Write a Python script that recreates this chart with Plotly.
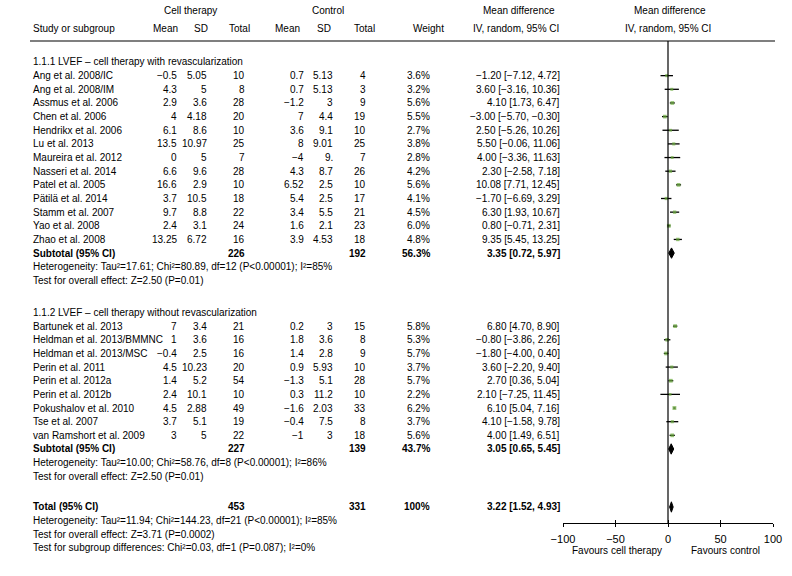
import plotly.graph_objects as go

# ---------------- data ----------------
studies1 = ["Ang et al. 2008/IC", "Ang et al. 2008/IM", "Assmus et al. 2006", "Chen et al. 2006",
            "Hendrikx et al. 2006", "Lu et al. 2013", "Maureira et al. 2012", "Nasseri et al. 2014",
            "Patel et al. 2005", "Pätilä et al. 2014", "Stamm et al. 2007", "Yao et al. 2008",
            "Zhao et al. 2008"]
cell_mean1 = ["−0.5", "4.3", "2.9", "4", "6.1", "13.5", "0", "6.6", "16.6", "3.7", "9.7", "2.4", "13.25"]
cell_sd1 = ["5.05", "5", "3.6", "4.18", "8.6", "10.97", "5", "9.6", "2.9", "10.5", "8.8", "3.1", "6.72"]
cell_n1 = [10, 8, 28, 20, 10, 25, 7, 28, 10, 18, 22, 24, 16]
ctrl_mean1 = ["0.7", "0.7", "−1.2", "7", "3.6", "8", "−4", "4.3", "6.52", "5.4", "3.4", "1.6", "3.9"]
ctrl_sd1 = ["5.13", "5.13", "3", "4.4", "9.1", "9.01", "9.", "8.7", "2.5", "2.5", "5.5", "2.1", "4.53"]
ctrl_n1 = [4, 3, 9, 19, 10, 25, 7, 26, 10, 17, 21, 23, 18]
weight1 = [3.6, 3.2, 5.6, 5.5, 2.7, 3.8, 2.8, 4.2, 5.6, 4.1, 4.5, 6.0, 4.8]
md1 = [-1.20, 3.60, 4.10, -3.00, 2.50, 5.50, 4.00, 2.30, 10.08, -1.70, 6.30, 0.80, 9.35]
lo1 = [-7.12, -3.16, 1.73, -5.70, -5.26, -0.06, -3.36, -2.58, 7.71, -6.69, 1.93, -0.71, 5.45]
hi1 = [4.72, 10.36, 6.47, -0.30, 10.26, 11.06, 11.63, 7.18, 12.45, 3.29, 10.67, 2.31, 13.25]

studies2 = ["Bartunek et al. 2013", "Heldman et al. 2013/BMMNC", "Heldman et al. 2013/MSC",
            "Perin et al. 2011", "Perin et al. 2012a", "Perin et al. 2012b", "Pokushalov et al. 2010",
            "Tse et al. 2007", "van Ramshort et al. 2009"]
cell_mean2 = ["7", "1", "−0.4", "4.5", "1.4", "2.4", "4.5", "3.7", "3"]
cell_sd2 = ["3.4", "3.6", "2.5", "10.23", "5.2", "10.1", "2.88", "5.1", "5"]
cell_n2 = [21, 16, 16, 20, 54, 10, 49, 19, 22]
ctrl_mean2 = ["0.2", "1.8", "1.4", "0.9", "−1.3", "0.3", "−1.6", "−0.4", "−1"]
ctrl_sd2 = ["3", "3.6", "2.8", "5.93", "5.1", "11.2", "2.03", "7.5", "3"]
ctrl_n2 = [15, 8, 9, 10, 28, 10, 33, 8, 18]
weight2 = [5.8, 5.3, 5.7, 3.7, 5.7, 2.2, 6.2, 3.7, 5.6]
md2 = [6.80, -0.80, -1.80, 3.60, 2.70, 2.10, 6.10, 4.10, 4.00]
lo2 = [4.70, -3.86, -4.00, -2.20, 0.36, -7.25, 5.04, -1.58, 1.49]
hi2 = [8.90, 2.26, 0.40, 9.40, 5.04, 11.45, 7.16, 9.78, 6.51]

group_titles = ["1.1.1 LVEF – cell therapy with revascularization",
                "1.1.2 LVEF – cell therapy without revascularization"]
sub_n_cell = [226, 227]
sub_n_ctrl = [192, 139]
sub_weight = [56.3, 43.7]
sub_md = [3.35, 3.05]
sub_lo = [0.72, 0.65]
sub_hi = [5.97, 5.45]
sub_het = ["Heterogeneity: Tau²=17.61; Chi²=80.89, df=12 (P&lt;0.00001); I²=85%",
           "Heterogeneity: Tau²=10.00; Chi²=58.76, df=8 (P&lt;0.00001); I²=86%"]
sub_test = ["Test for overall effect: Z=2.50 (P=0.01)", "Test for overall effect: Z=2.50 (P=0.01)"]

tot_n_cell, tot_n_ctrl = 453, 331
tot_md, tot_lo, tot_hi = 3.22, 1.52, 4.93
tot_notes = ["Heterogeneity: Tau²=11.94; Chi²=144.23, df=21 (P&lt;0.00001); I²=85%",
             "Test for overall effect: Z=3.71 (P=0.0002)",
             "Test for subgroup differences: Chi²=0.03, df=1 (P=0.087); I²=0%"]

tick_vals = [-100, -50, 0, 50, 100]
tick_text = ["−100", "−50", "0", "50", "100"]
favours = ["Favours cell therapy", "Favours control"]

# ---------------- layout helpers ----------------
W, H = 792, 576
FONT = "Liberation Sans, Arial, sans-serif"
FS = 10
ROW0, DY = 62.0, 13.65
G2 = 18.35
RT = 32.6
AX_PX = 523.0
HDR_LINE = 41.0
GREEN = "#6aa93c"


def rpx(r):
    return ROW0 + r * DY


def py(p):
    return 1 - p / H


def fmt(v):
    return f"{v:.2f}".replace("-", "−")


def ci_text(m, lo, hi):
    return f"{fmt(m)} [{fmt(lo)}, {fmt(hi)}]"


ann = []


def T(text, xpx, ypx, anchor="left", bold=False, size=FS):
    ann.append(dict(text=text, x=xpx / W, y=py(ypx), xref="paper", yref="paper",
                    xanchor=anchor, yanchor="middle", showarrow=False,
                    font=dict(family=FONT, size=size, color="black",
                              weight="bold" if bold else "normal")))


# column positions (px)
X_LAB = 31
X_CM, X_CSD, X_CN = 179, 209, 247
X_KM, X_KSD, X_KN = 306, 335, 368
X_W = 432
X_MD = 562

# headers
H1, H2 = 11, 28
T("Cell therapy", 190, H1, "center")
T("Control", 328, H1, "center")
T("Mean difference", 519, H1, "center")
T("Mean difference", 670, H1, "center")
T("Study or subgroup", X_LAB, H2)
T("Mean", 180, H2, "right")
T("SD", 210, H2, "right")
T("Total", 252, H2, "right")
T("Mean", 302, H2, "right")
T("SD", 333, H2, "right")
T("Total", 377, H2, "right")
T("Weight", 446, H2, "right")
T("IV, random, 95% CI", 516, H2, "center")
T("IV, random, 95% CI", 668, H2, "center")

groups = [
    (studies1, cell_mean1, cell_sd1, cell_n1, ctrl_mean1, ctrl_sd1, ctrl_n1, weight1, md1, lo1, hi1, 0.0),
    (studies2, cell_mean2, cell_sd2, cell_n2, ctrl_mean2, ctrl_sd2, ctrl_n2, weight2, md2, lo2, hi2, G2),
]

ci_x, ci_y, mk_x, mk_y, mk_s = [], [], [], [], []
dia_rows = []
for gi, (st, cm, csd, cn, km, ksd, kn, wt, md, lo, hi, r0) in enumerate(groups):
    T(group_titles[gi], X_LAB, rpx(r0))
    for i in range(len(st)):
        r = r0 + 1 + i
        y = rpx(r)
        T(st[i], X_LAB, y)
        T(cm[i], X_CM, y, "right")
        T(csd[i], X_CSD, y, "right")
        T(str(cn[i]), X_CN, y, "right")
        T(km[i], X_KM, y, "right")
        T(ksd[i], X_KSD, y, "right")
        T(str(kn[i]), X_KN, y, "right")
        T(f"{wt[i]:.1f}%", X_W, y, "right")
        T(ci_text(md[i], lo[i], hi[i]), X_MD, y, "right")
        ci_x += [lo[i], hi[i], None]
        ci_y += [r, r, None]
        mk_x.append(md[i])
        mk_y.append(r)
        mk_s.append(2.0 + 0.3 * wt[i])
    rs = r0 + 1 + len(st)
    y = rpx(rs)
    T("Subtotal (95% CI)", X_LAB, y, bold=True)
    T(str(sub_n_cell[gi]), X_CN, y, "right", bold=True)
    T(str(sub_n_ctrl[gi]), X_KN, y, "right", bold=True)
    T(f"{sub_weight[gi]:.1f}%", X_W, y, "right", bold=True)
    T(ci_text(sub_md[gi], sub_lo[gi], sub_hi[gi]), X_MD, y, "right", bold=True)
    T(sub_het[gi], X_LAB, rpx(rs + 1))
    T(sub_test[gi], X_LAB, rpx(rs + 2))
    dia_rows.append((sub_md[gi], sub_lo[gi], sub_hi[gi], rs))

y = rpx(RT)
T("Total (95% CI)", X_LAB, y, bold=True)
T(str(tot_n_cell), X_CN, y, "right", bold=True)
T(str(tot_n_ctrl), X_KN, y, "right", bold=True)
T("100%", X_W, y, "right", bold=True)
T(ci_text(tot_md, tot_lo, tot_hi), X_MD, y, "right", bold=True)
for k, note in enumerate(tot_notes):
    T(note, X_LAB, rpx(RT + 1 + k))
dia_rows.append((tot_md, tot_lo, tot_hi, RT))

T(favours[0], 617, 550, "center")
T(favours[1], 725, 550, "center")

# ---------------- traces ----------------
fig = go.Figure()
fig.add_trace(go.Scatter(x=ci_x, y=ci_y, mode="lines", line=dict(color="black", width=1.3),
                         hoverinfo="skip"))
fig.add_trace(go.Scatter(x=mk_x, y=mk_y, mode="markers",
                         marker=dict(symbol="square", size=mk_s, color=GREEN, line=dict(width=0)),
                         hoverinfo="skip"))
DH = 0.38
for m, lo, hi, r in dia_rows:
    fig.add_trace(go.Scatter(x=[lo, m, hi, m, lo], y=[r, r - DH, r, r + DH, r], mode="lines",
                             fill="toself", fillcolor="black", line=dict(color="black", width=1),
                             hoverinfo="skip"))
# helper trace for the inward-tick overlay axis
fig.add_trace(go.Scatter(x=[0], y=[0], xaxis="x2", mode="markers", marker=dict(opacity=0),
                         hoverinfo="skip"))

dom = [563 / W, 773 / W]
y_range = [(AX_PX - ROW0) / DY, (0 - ROW0) / DY]

fig.update_layout(
    width=W, height=H,
    margin=dict(l=0, r=0, t=0, b=0, autoexpand=False),
    paper_bgcolor="white", plot_bgcolor="white",
    showlegend=False,
    font=dict(family=FONT, size=FS, color="black"),
    xaxis=dict(domain=dom, range=[-100, 100], tickvals=tick_vals, ticktext=tick_text,
               ticks="outside", ticklen=3, tickwidth=1.2, tickcolor="black",
               showline=True, linecolor="black", linewidth=1.2, automargin=False,
               showgrid=False, zeroline=False, anchor="y", ticklabelstandoff=3,
               tickfont=dict(family=FONT, size=11, color="black")),
    xaxis2=dict(domain=dom, range=[-100, 100], tickvals=tick_vals, overlaying="x",
                ticks="inside", ticklen=3, tickwidth=1.2, tickcolor="black",
                showticklabels=False, showline=False, showgrid=False, zeroline=False,
                anchor="y", side="bottom", automargin=False),
    yaxis=dict(domain=[1 - AX_PX / H, 1], range=y_range, visible=False, showgrid=False,
               zeroline=False, automargin=False),
    annotations=ann,
    shapes=[
        dict(type="line", xref="paper", yref="paper", x0=30 / W, x1=775 / W,
             y0=py(HDR_LINE), y1=py(HDR_LINE), line=dict(color="black", width=1.2)),
        dict(type="line", xref="x", yref="paper", x0=0, x1=0, y0=py(AX_PX), y1=py(HDR_LINE),
             line=dict(color="black", width=1.2)),
    ],
)

fig.write_html("out.html", config={"displayModeBar": False},
               post_script="document.body.style.margin='0';document.body.style.padding='0';")
